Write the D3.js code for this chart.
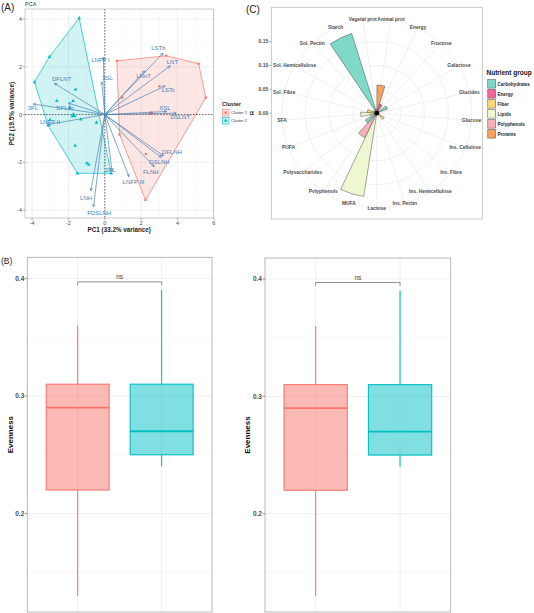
<!DOCTYPE html>
<html><head><meta charset="utf-8">
<script src="https://cdn.jsdelivr.net/npm/d3@7"></script>
<style>body{margin:0;background:#fff} svg{display:block;font-family:"Liberation Sans",Arial,sans-serif}</style>
</head><body><svg id="c" width="534" height="613"></svg>
<script>
// ---------------- Panel A: PCA biplot data ----------------
const clusterNames = ["Cluster 1", "Cluster 2"];
const cluster1X = [0.66, 3.38, 5.16, 5.56, 2.24, 3.01, 0.95, 0.81, 2.26];
const cluster1Y = [2.25, 2.46, 2.13, 0.71, -3.58, 1.19, 0.71, -0.83, -1.65];
const cluster2X = [-1.41, -3.05, -3.87, -1.61, -2.64, -1.74, -1.93, -1.32, -3.01, -3.12, -0.46, -1.63, -0.99, -0.88, -1.50, 0.35];
const cluster2Y = [4.04, 2.41, 1.36, 1.05, 0.57, 0.57, 0.31, -0.20, -0.22, -0.45, -0.34, -1.30, -2.03, -2.10, -2.46, -2.46];
const centroidX = [2.55, -1.72];
const centroidY = [0.06, -0.04];
const loadingNames = ["LSTb","LNT","LNnT","LSTc","6SL","DSLNT","DFLNH","DSLNH","FLNH","LNFP III","2FL","LNH","FDSLNH","LNFP I","3SL","DFLNT","3FL","DFLac","LNFP II"];
const loadingX = [3.20, 3.60, 2.20, 3.32, 3.41, 3.93, 3.23, 3.10, 2.72, 1.33, 0.40, -0.77, -0.62, -0.08, -0.17, -2.77, -3.93, -2.00, -3.12];
const loadingY = [2.57, 2.04, 1.83, 1.20, 0.13, 0.06, -1.73, -1.79, -2.18, -2.60, -2.38, -3.19, -3.86, 2.40, 1.37, 1.31, 0.44, 0.48, -0.42];
const labelX = [2.95, 3.72, 2.13, 3.50, 3.32, 4.15, 3.69, 3.01, 2.53, 1.58, 0.30, -1.03, -0.31, -0.24, 0.15, -2.37, -3.96, -2.18, -3.01];
const labelY = [2.78, 2.21, 1.62, 1.01, 0.29, -0.11, -1.55, -1.97, -2.39, -2.83, -2.30, -3.48, -4.10, 2.27, 1.54, 1.48, 0.29, 0.29, -0.33];
const pcaXTicks = [-4, -2, 0, 2, 4, 6];
const pcaYTicks = [-4, -2, 0, 2, 4];
const pcaXTitle = "PC1 (33.2% variance)";
const pcaYTitle = "PC2 (19.5% variance)";

// ---------------- Panel B: Evenness boxplots ----------------
const boxGroups = ["Cluster 1", "Cluster 2"];
const boxMin = [0.13, 0.24];
const boxQ1 = [0.22, 0.25];
const boxMedian = [0.29, 0.27];
const boxQ3 = [0.31, 0.31];
const boxMax = [0.36, 0.39];
const evenTicks = [0.2, 0.3, 0.4];
const evenMinor = [0.15, 0.25, 0.35];
const testLabel = "ns";

// ---------------- Panel C: polar bar chart ----------------
const nutrients = ["Animal prot","Energy","Fructose","Galactose","Glucides","Glucose","Ins. Cellulose","Ins. Fibre","Ins. Hemicellulose","Ins. Pectin","Lactose","MUFA","Polyphenols","Polysaccharides","PUFA","SFA","Sol. Fibre","Sol. Hemicellulose","Sol. Pectin","Starch","Vegetal prot"];
const nutrientGroup = ["Proteins","Energy","Carbohydrates","Carbohydrates","Carbohydrates","Carbohydrates","Fiber","Fiber","Fiber","Fiber","Carbohydrates","Lipids","Polyphenols","Carbohydrates","Lipids","Lipids","Fiber","Fiber","Fiber","Carbohydrates","Proteins"];
const nutrientR = [0.059, 0.020, 0.000, 0.024, 0.004, 0.000, 0.004, 0.018, 0.003, 0.003, 0.002, 0.177, 0.057, 0.028, 0.015, 0.034, 0.020, 0.008, 0.006, 0.175, 0.008];
const groupNames = ["Carbohydrates","Energy","Fiber","Lipids","Polyphenols","Proteins"];
const groupColors = ["#80D8C8","#F2689A","#FAD97B","#EEF8D0","#F5B2B6","#F7A25E"];
const rTicks = [0, 0.05, 0.10, 0.15];

const clusterColors = ["#F8766D", "#00BFC4"];
const svg = d3.select("#c");
const txt = "#4D4D4D";

// =============== Panel A ===============
(function(){
  const L = 25, R = 213.5, T = 9, B = 218;
  const x = d3.scaleLinear().domain([-4.39, 5.98]).range([L, R]);
  const y = d3.scaleLinear().domain([-4.33, 4.42]).range([B, T]);
  const g = svg.append("g");
  g.append("rect").attr("x", L).attr("y", T).attr("width", R - L).attr("height", B - T).attr("fill", "#fff");
  const xMinor = [-3, -1, 1, 3, 5], yMinor = [-3, -1, 1, 3];
  g.selectAll(".xm").data(xMinor).join("line").attr("x1", d => x(d)).attr("x2", d => x(d)).attr("y1", T).attr("y2", B).attr("stroke", "#f3f3f3").attr("stroke-width", 0.4);
  g.selectAll(".ym").data(yMinor).join("line").attr("y1", d => y(d)).attr("y2", d => y(d)).attr("x1", L).attr("x2", R).attr("stroke", "#f3f3f3").attr("stroke-width", 0.4);
  g.selectAll(".xg").data(pcaXTicks).join("line").attr("x1", d => x(d)).attr("x2", d => x(d)).attr("y1", T).attr("y2", B).attr("stroke", "#e6e6e6").attr("stroke-width", 0.6);
  g.selectAll(".yg").data(pcaYTicks).join("line").attr("y1", d => y(d)).attr("y2", d => y(d)).attr("x1", L).attr("x2", R).attr("stroke", "#e6e6e6").attr("stroke-width", 0.6);

  const pts1 = cluster1X.map((v, i) => [v, cluster1Y[i]]);
  const pts2 = cluster2X.map((v, i) => [v, cluster2Y[i]]);
  [pts1, pts2].forEach((pts, k) => {
    const hull = d3.polygonHull(pts);
    g.append("path").attr("d", d3.line().x(d => x(d[0])).y(d => y(d[1])).curve(d3.curveLinearClosed)(hull))
      .attr("fill", clusterColors[k]).attr("fill-opacity", 0.18).attr("stroke", clusterColors[k]).attr("stroke-width", 0.7);
  });
  // dashed reference lines
  g.append("line").attr("x1", x(0)).attr("x2", x(0)).attr("y1", T).attr("y2", B).attr("stroke", "#333").attr("stroke-width", 0.7).attr("stroke-dasharray", "1.6,1.4");
  g.append("line").attr("y1", y(0)).attr("y2", y(0)).attr("x1", L).attr("x2", R).attr("stroke", "#333").attr("stroke-width", 0.7).attr("stroke-dasharray", "1.6,1.4");

  const sym1 = d3.symbol().type(d3.symbolCircle).size(5);
  const sym2 = d3.symbol().type(d3.symbolTriangle).size(6);
  g.selectAll(".p1").data(pts1).join("path").attr("d", sym1).attr("transform", d => `translate(${x(d[0])},${y(d[1])})`).attr("fill", clusterColors[0]);
  g.selectAll(".p2").data(pts2).join("path").attr("d", sym2).attr("transform", d => `translate(${x(d[0])},${y(d[1])})`).attr("fill", clusterColors[1]);
  g.append("path").attr("d", d3.symbol().type(d3.symbolCircle).size(12)()).attr("transform", `translate(${x(centroidX[0])},${y(centroidY[0])})`).attr("fill", clusterColors[0]);
  g.append("path").attr("d", d3.symbol().type(d3.symbolTriangle).size(16)()).attr("transform", `translate(${x(centroidX[1])},${y(centroidY[1])})`).attr("fill", clusterColors[1]);

  // loadings arrows
  const ac = "#4682B4";
  loadingNames.forEach((n, i) => {
    const x1 = x(loadingX[i]), y1 = y(loadingY[i]), x0 = x(0), y0 = y(0);
    g.append("line").attr("x1", x0).attr("y1", y0).attr("x2", x1).attr("y2", y1).attr("stroke", ac).attr("stroke-width", 0.7);
    const a = Math.atan2(y1 - y0, x1 - x0), h = 3, s = 0.45;
    g.append("path").attr("d", `M${x1 - h * Math.cos(a - s)},${y1 - h * Math.sin(a - s)}L${x1},${y1}L${x1 - h * Math.cos(a + s)},${y1 - h * Math.sin(a + s)}`)
      .attr("fill", "none").attr("stroke", ac).attr("stroke-width", 0.7);
    g.append("text").attr("x", x(labelX[i])).attr("y", y(labelY[i])).attr("text-anchor", "middle").attr("dominant-baseline", "central")
      .attr("font-size", 6).attr("fill", ac).text(n);
  });
  g.append("rect").attr("x", L).attr("y", T).attr("width", R - L).attr("height", B - T).attr("fill", "none").attr("stroke", "#b5b5b5").attr("stroke-width", 0.7);

  // axes
  g.selectAll(".xt").data(pcaXTicks).join("line").attr("x1", d => x(d)).attr("x2", d => x(d)).attr("y1", B).attr("y2", B + 2).attr("stroke", "#555").attr("stroke-width", 0.5);
  g.selectAll(".xl").data(pcaXTicks).join("text").attr("x", d => x(d)).attr("y", B + 7).attr("text-anchor", "middle").attr("font-size", 5.5).attr("fill", txt).text(d => d);
  g.selectAll(".yt").data(pcaYTicks).join("line").attr("y1", d => y(d)).attr("y2", d => y(d)).attr("x1", L - 2).attr("x2", L).attr("stroke", "#555").attr("stroke-width", 0.5);
  g.selectAll(".yl").data(pcaYTicks).join("text").attr("x", L - 3).attr("y", d => y(d) + 2).attr("text-anchor", "end").attr("font-size", 5.5).attr("fill", txt).text(d => d);
  g.append("text").attr("x", (L + R) / 2).attr("y", 232).attr("text-anchor", "middle").attr("font-size", 6.3).attr("font-weight", "bold").attr("fill", "#222").text(pcaXTitle);
  g.append("text").attr("transform", `translate(14,${(T + B) / 2}) rotate(-90)`).attr("text-anchor", "middle").attr("font-size", 6.3).attr("font-weight", "bold").attr("fill", "#222").text(pcaYTitle);
  g.append("text").attr("x", 25).attr("y", 6).attr("font-size", 5.5).attr("fill", "#333").text("PCA");
  svg.append("text").attr("x", 1).attr("y", 11).attr("font-size", 10).attr("fill", "#222").text("(A)");

  // legend
  const lg = svg.append("g");
  lg.append("text").attr("x", 222).attr("y", 106).attr("font-size", 5.5).attr("font-weight", "bold").attr("fill", "#222").text("Cluster");
  clusterNames.forEach((n, k) => {
    const yy = 109.5 + k * 8;
    lg.append("rect").attr("x", 222.5).attr("y", yy).attr("width", 6.5).attr("height", 6.5).attr("fill", clusterColors[k]).attr("fill-opacity", 0.18).attr("stroke", clusterColors[k]).attr("stroke-width", 0.6);
    lg.append("path").attr("d", d3.symbol().type(k ? d3.symbolTriangle : d3.symbolCircle).size(6)()).attr("transform", `translate(225.75,${yy + 3.25})`).attr("fill", clusterColors[k]);
    lg.append("text").attr("x", 231).attr("y", yy + 4.8).attr("font-size", 4).attr("fill", "#333").text(n);
  });
})();

// =============== Panel C ===============
(function(){
  const L = 271.3, R = 482.3, T = 7.3, B = 219;
  const W = R - L, cx = (L + R) / 2, cy = (T + B) / 2;
  const theta = d3.scaleBand().domain(nutrients).range([0, 2 * Math.PI]).padding(0);
  const bw = theta.bandwidth();
  const r = d3.scaleLinear().domain([0, d3.max(nutrientR)]).range([0, 0.4 * W]);
  const color = d3.scaleOrdinal().domain(groupNames).range(groupColors);
  const g = svg.append("g");
  g.append("rect").attr("x", L).attr("y", T).attr("width", W).attr("height", B - T).attr("fill", "#fff");
  const circ = rTicks.filter(d => d > 0).map(d => r(d)).concat([0.45 * W]);
  g.selectAll(".gc").data(circ).join("circle").attr("cx", cx).attr("cy", cy).attr("r", d => d).attr("fill", "none").attr("stroke", "#e9e9e9").attr("stroke-width", 0.7);
  g.selectAll(".sp").data(nutrients).join("line").attr("x1", cx).attr("y1", cy)
    .attr("x2", d => cx + 0.45 * W * Math.sin(theta(d) + bw / 2)).attr("y2", d => cy - 0.45 * W * Math.cos(theta(d) + bw / 2))
    .attr("stroke", "#e9e9e9").attr("stroke-width", 0.7);
  const arc = d3.arc();
  g.selectAll(".bar").data(nutrients).join("path")
    .attr("d", (d, i) => arc({innerRadius: 0, outerRadius: r(nutrientR[i]), startAngle: theta(d) + bw * 0.02, endAngle: theta(d) + bw * 0.98}))
    .attr("transform", `translate(${cx},${cy})`)
    .attr("fill", (d, i) => color(nutrientGroup[i])).attr("stroke", "#3a3a3a").attr("stroke-width", 0.45);
  g.append("circle").attr("cx", cx).attr("cy", cy).attr("r", 2.3).attr("fill", "#000");
  g.selectAll(".tl").data(nutrients).join("text")
    .attr("x", d => cx + 0.45 * W * Math.sin(theta(d) + bw / 2)).attr("y", d => cy - 0.45 * W * Math.cos(theta(d) + bw / 2))
    .attr("text-anchor", "middle").attr("dominant-baseline", "central").attr("font-size", 4.9).attr("font-weight", "bold").attr("fill", txt).text(d => d);
  g.append("rect").attr("x", L).attr("y", T).attr("width", W).attr("height", B - T).attr("fill", "none").attr("stroke", "#b5b5b5").attr("stroke-width", 0.7);
  // r axis
  g.selectAll(".rt").data(rTicks).join("line").attr("x1", L - 2).attr("x2", L).attr("y1", d => cy - r(d)).attr("y2", d => cy - r(d)).attr("stroke", "#555").attr("stroke-width", 0.5);
  g.selectAll(".rl").data(rTicks).join("text").attr("x", L - 3).attr("y", d => cy - r(d) + 1.8).attr("text-anchor", "end").attr("font-size", 5).attr("font-weight", "bold").attr("fill", txt).text(d => d3.format(".2f")(d));
  g.append("text").attr("transform", `translate(254,${cy}) rotate(-90)`).attr("text-anchor", "middle").attr("font-size", 6).attr("font-weight", "bold").attr("fill", "#222").text("R");
  svg.append("text").attr("x", 246).attr("y", 13).attr("font-size", 10).attr("fill", "#222").text("(C)");
  // legend
  const lg = svg.append("g");
  lg.append("text").attr("x", 486.5).attr("y", 75).attr("font-size", 6.5).attr("font-weight", "bold").attr("fill", "#111").text("Nutrient group");
  groupNames.forEach((n, k) => {
    const yy = 79.5 + k * 10;
    lg.append("rect").attr("x", 487.8).attr("y", yy).attr("width", 7.8).attr("height", 8.6).attr("fill", groupColors[k]).attr("stroke", "#3a3a3a").attr("stroke-width", 0.45);
    lg.append("text").attr("x", 497.5).attr("y", yy + 6).attr("font-size", 4.6).attr("font-weight", "bold").attr("fill", "#222").text(n);
  });
})();

// =============== Panel B ===============
function boxPanel(L, R, T, B, labelRight, titleX) {
  const g = svg.append("g");
  const y = d3.scaleLinear().domain([0.1163, 0.4179]).range([B, T]);
  const x = d3.scalePoint().domain(boxGroups).range([L, R]).padding(0.6);
  const step = x.step(), bw = step * 0.75;
  g.append("rect").attr("x", L).attr("y", T).attr("width", R - L).attr("height", B - T).attr("fill", "#fff");
  g.selectAll(".mg").data(evenMinor).join("line").attr("x1", L).attr("x2", R).attr("y1", d => y(d)).attr("y2", d => y(d)).attr("stroke", "#f3f3f3").attr("stroke-width", 0.6);
  g.selectAll(".hg").data(evenTicks).join("line").attr("x1", L).attr("x2", R).attr("y1", d => y(d)).attr("y2", d => y(d)).attr("stroke", "#ebebeb").attr("stroke-width", 0.8);
  g.selectAll(".vg").data(boxGroups).join("line").attr("x1", d => x(d)).attr("x2", d => x(d)).attr("y1", T).attr("y2", B).attr("stroke", "#ebebeb").attr("stroke-width", 0.8);
  boxGroups.forEach((grp, i) => {
    const c = clusterColors[i], cxp = x(grp);
    g.append("line").attr("x1", cxp).attr("x2", cxp).attr("y1", y(boxMax[i])).attr("y2", y(boxQ3[i])).attr("stroke", c).attr("stroke-width", 1.1);
    g.append("line").attr("x1", cxp).attr("x2", cxp).attr("y1", y(boxQ1[i])).attr("y2", y(boxMin[i])).attr("stroke", c).attr("stroke-width", 1.1);
    g.append("rect").attr("x", cxp - bw / 2).attr("y", y(boxQ3[i])).attr("width", bw).attr("height", y(boxQ1[i]) - y(boxQ3[i]))
      .attr("fill", c).attr("fill-opacity", 0.5).attr("stroke", c).attr("stroke-width", 1.1);
    g.append("line").attr("x1", cxp - bw / 2).attr("x2", cxp + bw / 2).attr("y1", y(boxMedian[i])).attr("y2", y(boxMedian[i])).attr("stroke", c).attr("stroke-width", 1.8);
  });
  // significance bracket
  const by = y(0.397);
  g.append("path").attr("d", `M${x(boxGroups[0])},${by + 3.3}V${by}H${x(boxGroups[1])}V${by + 3.3}`).attr("fill", "none").attr("stroke", "#777").attr("stroke-width", 0.8);
  g.append("text").attr("x", (x(boxGroups[0]) + x(boxGroups[1])) / 2).attr("y", by - 3).attr("text-anchor", "middle").attr("font-size", 6.5).attr("fill", "#444").text(testLabel);
  g.append("rect").attr("x", L).attr("y", T).attr("width", R - L).attr("height", B - T).attr("fill", "none").attr("stroke", "#a8a8a8").attr("stroke-width", 0.8);
  g.selectAll(".yt").data(evenTicks).join("line").attr("x1", L - 2.5).attr("x2", L).attr("y1", d => y(d)).attr("y2", d => y(d)).attr("stroke", "#444").attr("stroke-width", 0.6);
  g.selectAll(".yl").data(evenTicks).join("text").attr("x", labelRight).attr("y", d => y(d) + 2.3).attr("text-anchor", "end").attr("font-size", 6.5).attr("font-weight", "bold").attr("fill", txt).text(d => d3.format(".1f")(d));
  g.append("text").attr("transform", `translate(${titleX},${(T + B) / 2}) rotate(-90)`).attr("text-anchor", "middle").attr("font-size", 8).attr("font-weight", "bold").attr("fill", "#111").text("Evenness");
}
boxPanel(27.3, 212, 257.3, 612, 24.3, 12.5);
boxPanel(265, 450.7, 258, 612, 262, 249.5);
svg.append("text").attr("x", 1).attr("y", 264).attr("font-size", 8.5).attr("fill", "#222").text("(B)");
</script></body></html>
